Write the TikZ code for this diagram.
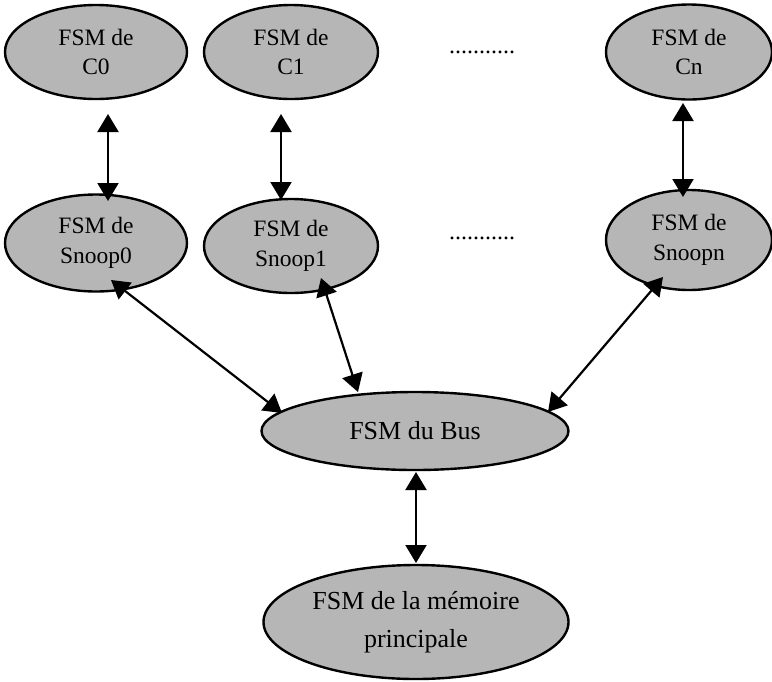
\documentclass[tikz,border=0pt]{standalone}
\usepackage{fontspec}
\setmainfont{Liberation Serif}
\usetikzlibrary{shapes.geometric,arrows.meta}
\definecolor{ovalgray}{RGB}{182,182,182}
\tikzset{
  oval/.style={ellipse, draw=black, line width=2.4pt, fill=ovalgray, inner sep=0pt, align=center,
    font=\fontsize{23.5}{29.5}\selectfont},
  bigoval/.style={oval, font=\fontsize{26}{38}\selectfont},
  bi/.style={line width=2.2pt, {Triangle[length=18pt,width=21pt]}-{Triangle[length=18pt,width=21pt]}},
  dots/.style={font=\fontsize{24}{29}\selectfont, inner sep=0pt, anchor=base}
}
\begin{document}
\begin{tikzpicture}[x=1pt,y=-1pt]
\useasboundingbox (0,0) rectangle (772,681);
\node[oval, minimum width=182pt, minimum height=94pt] (c0) at (96,52) {FSM de\\C0};
\node[oval, minimum width=174pt, minimum height=94pt] (c1) at (291,52) {FSM de\\C1};
\node[oval, minimum width=166pt, minimum height=95pt] (cn) at (689,52) {FSM de\\Cn};
\node[oval, minimum width=182pt, minimum height=97pt] (s0) at (96,243) {FSM de\\Snoop0};
\node[oval, minimum width=174pt, minimum height=94pt] (s1) at (291,246) {FSM de\\Snoop1};
\node[oval, minimum width=166pt, minimum height=100pt] (sn) at (689,240) {FSM de\\Snoopn};
\node[bigoval, minimum width=307pt, minimum height=78pt] (bus) at (415,431) {FSM du Bus};
\node[bigoval, minimum width=305pt, minimum height=114pt] (mem) at (416,622) {FSM de la mémoire\\principale};
\node[dots] (d1) at (482,53) {...........};
\node[dots] (d2) at (482,239) {...........};
\draw[bi] ([shift={(12,62)}]c0.center) -- ([shift={(12,-42)}]s0.center);
\draw[bi] ([shift={(-10,62)}]c1.center) -- ([shift={(-10,-46)}]s1.center);
\draw[bi] ([shift={(-6,51)}]cn.center) -- ([shift={(-6,-43)}]sn.center);
\draw[bi] ([shift={(15,37)}]s0.center) -- ([shift={(-133,-18)}]bus.center);
\draw[bi] ([shift={(30,32)}]s1.center) -- ([shift={(-57,-39)}]bus.center);
\draw[bi] ([shift={(-26,37)}]sn.center) -- ([shift={(133,-19)}]bus.center);
\draw[bi] ([shift={(1,41)}]bus.center) -- ([shift={(0,-59)}]mem.center);
\end{tikzpicture}
\end{document}
